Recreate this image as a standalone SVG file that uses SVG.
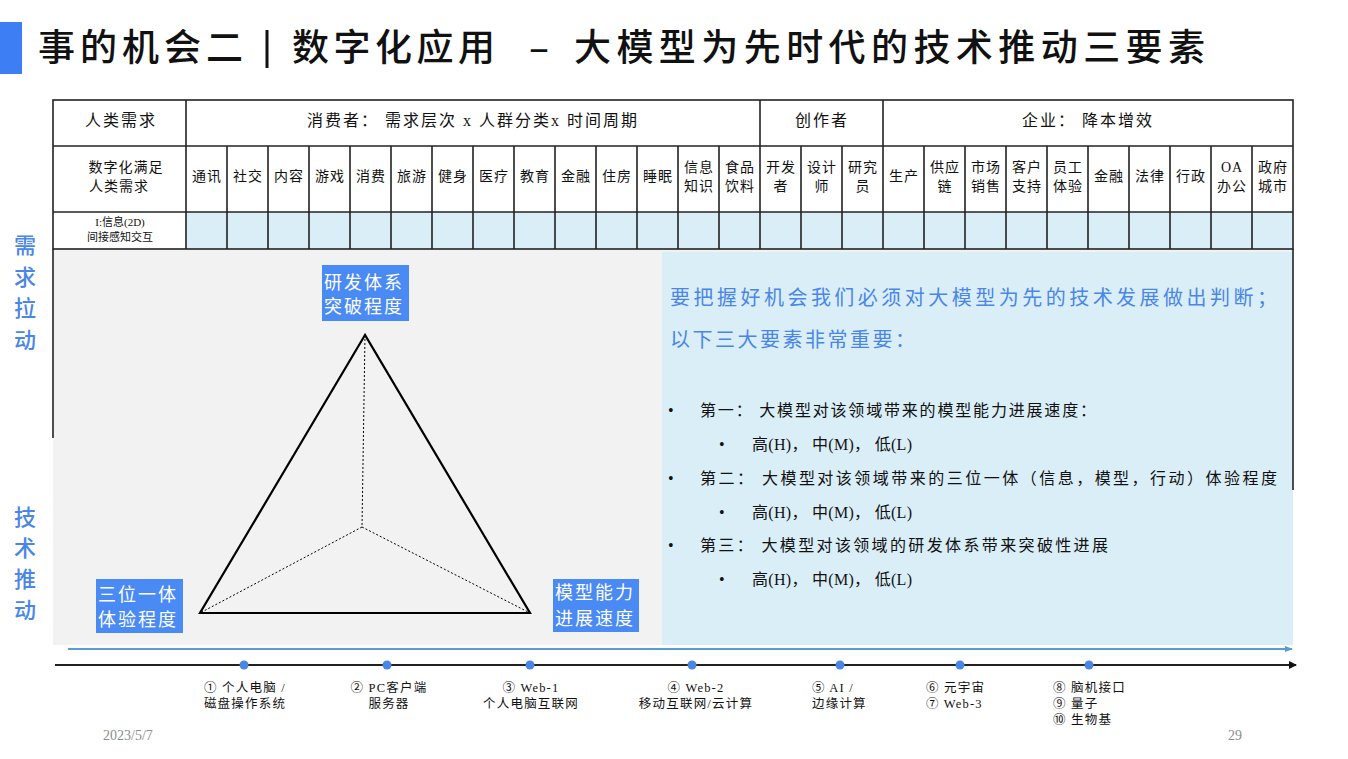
<svg xmlns="http://www.w3.org/2000/svg" width="1348" height="759" viewBox="0 0 1348 759">
<defs>
<style>
.cjk{font-family:"Liberation Serif","Noto Sans CJK SC",serif;}
.t1{font-size:16px;letter-spacing:2px;text-anchor:middle;fill:#111;}
.t2{font-size:14px;letter-spacing:1px;text-anchor:middle;fill:#111;}
.t3{font-size:11px;text-anchor:middle;fill:#111;}
.grid{stroke:#222;stroke-width:1.6;fill:none;}
.side{font-size:22px;fill:#4A86E8;text-anchor:middle;font-weight:500;}
.box{fill:#4A8AF4;}
.boxt{font-size:18px;fill:#fff;letter-spacing:2px;}
.blue{font-size:20px;fill:#4A86E8;}
.body{font-size:16px;fill:#111;}
.tl{font-size:12.5px;fill:#111;letter-spacing:1.2px;}
.dot{fill:#4A86E8;}
</style>
<marker id="arrBlk" markerWidth="8" markerHeight="8" refX="7" refY="4" orient="auto" markerUnits="userSpaceOnUse"><path d="M0,0 L8,4 L0,8 Z" fill="#111"/></marker>
<marker id="arrBlu" markerWidth="8" markerHeight="8" refX="7" refY="4" orient="auto" markerUnits="userSpaceOnUse"><path d="M0,1 L8,4 L0,7 Z" fill="#5B9BD5"/></marker>
</defs>
<rect width="1348" height="759" fill="#fff"/>

<g id="title">
<rect x="0" y="22" width="22" height="52" fill="#3D7EF5"/>
<text x="38" y="61" font-size="37" textLength="205" lengthAdjust="spacing" fill="#111" style="font-family:'Noto Sans CJK SC',sans-serif;font-weight:500">事的机会二</text>
<line x1="267" y1="30" x2="267" y2="68" stroke="#111" stroke-width="3"/>
<text x="292" y="61" font-size="37" textLength="203" lengthAdjust="spacing" fill="#111" style="font-family:'Noto Sans CJK SC',sans-serif;font-weight:500">数字化应用</text>
<text x="539" y="61" font-size="37" text-anchor="middle" fill="#111" style="font-family:'Noto Sans CJK SC',sans-serif;font-weight:500">–</text>
<text x="574" y="61" font-size="37" textLength="631" lengthAdjust="spacing" fill="#111" style="font-family:'Noto Sans CJK SC',sans-serif;font-weight:500">大模型为先时代的技术推动三要素</text>
</g>

<g id="panels">
<rect x="53" y="249" width="1240" height="396" fill="#F2F2F2"/>
<rect x="662" y="252" width="631" height="393" fill="#DAEEF8"/>
</g>

<g id="table">
<rect x="186" y="212" width="1107" height="37" fill="#DAEEF8"/>
<rect class="grid" x="53" y="100" width="1240" height="149"/>
<line class="grid" x1="53" y1="146" x2="1293" y2="146"/>
<line class="grid" x1="53" y1="212" x2="1293" y2="212"/>
<line class="grid" x1="186" y1="100" x2="186" y2="249"/>
<line class="grid" x1="760" y1="100" x2="760" y2="249"/>
<line class="grid" x1="883" y1="100" x2="883" y2="249"/>
<path class="grid" d="M227,146V249 M268,146V249 M309,146V249 M350,146V249 M391,146V249 M432,146V249 M473,146V249 M514,146V249 M555,146V249 M596,146V249 M637,146V249 M678,146V249 M719,146V249 M801,146V249 M842,146V249 M924,146V249 M965,146V249 M1006,146V249 M1047,146V249 M1088,146V249 M1129,146V249 M1170,146V249 M1211,146V249 M1252,146V249"/>
<line class="grid" x1="53" y1="249" x2="53" y2="438"/>
<line class="grid" x1="1293" y1="249" x2="1293" y2="490"/>

<text class="cjk t1" x="121" y="126">人类需求</text>
<text class="cjk t1" x="473" y="126">消费者：  需求层次 x 人群分类x 时间周期</text>
<text class="cjk t1" x="822" y="126">创作者</text>
<text class="cjk t1" x="1088" y="126">企业：  降本增效</text>

<text class="cjk t2" x="126" y="172">数字化满足</text>
<text class="cjk t2" x="119" y="191">人类需求</text>
<g class="cjk t2">
<text x="207" y="181">通讯</text>
<text x="248" y="181">社交</text>
<text x="289" y="181">内容</text>
<text x="330" y="181">游戏</text>
<text x="371" y="181">消费</text>
<text x="412" y="181">旅游</text>
<text x="453" y="181">健身</text>
<text x="494" y="181">医疗</text>
<text x="535" y="181">教育</text>
<text x="576" y="181">金融</text>
<text x="617" y="181">住房</text>
<text x="658" y="181">睡眠</text>
<text x="699" y="172">信息</text><text x="699" y="191">知识</text>
<text x="740" y="172">食品</text><text x="740" y="191">饮料</text>
<text x="781" y="172">开发</text><text x="781" y="191">者</text>
<text x="822" y="172">设计</text><text x="822" y="191">师</text>
<text x="863" y="172">研究</text><text x="863" y="191">员</text>
<text x="904" y="181">生产</text>
<text x="945" y="172">供应</text><text x="945" y="191">链</text>
<text x="986" y="172">市场</text><text x="986" y="191">销售</text>
<text x="1027" y="172">客户</text><text x="1027" y="191">支持</text>
<text x="1068" y="172">员工</text><text x="1068" y="191">体验</text>
<text x="1109" y="181">金融</text>
<text x="1150" y="181">法律</text>
<text x="1191" y="181">行政</text>
<text x="1232" y="172">OA</text><text x="1232" y="191">办公</text>
<text x="1273" y="172">政府</text><text x="1273" y="191">城市</text>
</g>
<text class="cjk t3" x="120" y="226">I:信息(2D)</text>
<text class="cjk t3" x="120" y="241">间接感知交互</text>
</g>

<g id="side-labels">
<text class="cjk side" x="25" y="253">需</text>
<text class="cjk side" x="25" y="285">求</text>
<text class="cjk side" x="25" y="316">拉</text>
<text class="cjk side" x="25" y="348">动</text>
<text class="cjk side" x="25" y="525">技</text>
<text class="cjk side" x="25" y="556">术</text>
<text class="cjk side" x="25" y="587">推</text>
<text class="cjk side" x="25" y="618">动</text>
</g>

<g id="triangle">
<path d="M365,335 L200,613 L530,613 Z" fill="none" stroke="#000" stroke-width="2.2" stroke-linejoin="miter"/>
<path d="M365,335 L362,527 M362,527 L200,613 M362,527 L530,613" fill="none" stroke="#000" stroke-width="1" stroke-dasharray="2,2"/>
</g>

<g id="node-rd">
<rect class="box" x="322" y="265" width="87" height="56"/>
<text class="cjk boxt" x="324" y="289">研发体系</text>
<text class="cjk boxt" x="324" y="313">突破程度</text>
</g>
<g id="node-exp">
<rect class="box" x="96" y="579" width="87" height="54"/>
<text class="cjk boxt" x="98" y="601">三位一体</text>
<text class="cjk boxt" x="98" y="626">体验程度</text>
</g>
<g id="node-model">
<rect class="box" x="553" y="579" width="86" height="53"/>
<text class="cjk boxt" x="555" y="599">模型能力</text>
<text class="cjk boxt" x="555" y="625">进展速度</text>
</g>

<g id="text-panel">
<text class="cjk blue" x="670" y="305" textLength="607" lengthAdjust="spacing">要把握好机会我们必须对大模型为先的技术发展做出判断；</text>
<text class="cjk blue" x="670" y="347" textLength="245" lengthAdjust="spacing">以下三大要素非常重要：</text>
<text class="cjk body" x="668" y="416">•</text>
<text class="cjk body" x="700" y="416" textLength="396" lengthAdjust="spacing">第一：  大模型对该领域带来的模型能力进展速度：</text>
<text class="cjk body" x="719" y="450">•</text>
<text class="cjk body" x="752" y="450" textLength="160" lengthAdjust="spacing">高(H)，  中(M)，  低(L)</text>
<text class="cjk body" x="668" y="484">•</text>
<text class="cjk body" x="700" y="484" textLength="577" lengthAdjust="spacing">第二：  大模型对该领域带来的三位一体（信息，模型，行动）体验程度</text>
<text class="cjk body" x="719" y="518">•</text>
<text class="cjk body" x="752" y="518" textLength="160" lengthAdjust="spacing">高(H)，  中(M)，  低(L)</text>
<text class="cjk body" x="668" y="551">•</text>
<text class="cjk body" x="700" y="551" textLength="408" lengthAdjust="spacing">第三：  大模型对该领域的研发体系带来突破性进展</text>
<text class="cjk body" x="719" y="585">•</text>
<text class="cjk body" x="752" y="585" textLength="160" lengthAdjust="spacing">高(H)，  中(M)，  低(L)</text>
</g>

<g id="connectors">
<line x1="68" y1="649" x2="1292" y2="649" stroke="#5B9BD5" stroke-width="2" marker-end="url(#arrBlu)"/>
<line x1="55" y1="665" x2="1296" y2="665" stroke="#222" stroke-width="2" marker-end="url(#arrBlk)"/>
</g>

<g id="timeline">
<circle class="dot" cx="244" cy="665" r="4.5"/>
<circle class="dot" cx="387" cy="665" r="4.5"/>
<circle class="dot" cx="530" cy="665" r="4.5"/>
<circle class="dot" cx="692" cy="665" r="4.5"/>
<circle class="dot" cx="840" cy="665" r="4.5"/>
<circle class="dot" cx="960" cy="665" r="4.5"/>
<circle class="dot" cx="1089" cy="665" r="4.5"/>
<g class="cjk tl" text-anchor="middle">
<text x="245" y="692">① 个人电脑 /</text>
<text x="245" y="708">磁盘操作系统</text>
<text x="389" y="692">② PC客户端</text>
<text x="389" y="708">服务器</text>
<text x="531" y="692">③ Web-1</text>
<text x="531" y="708">个人电脑互联网</text>
<text x="696" y="692">④ Web-2</text>
<text x="696" y="708">移动互联网/云计算</text>
</g>
<g class="cjk tl">
<text x="812" y="692">⑤ AI /</text>
<text x="812" y="708">边缘计算</text>
<text x="926" y="692">⑥ 元宇宙</text>
<text x="926" y="708">⑦ Web-3</text>
<text x="1053" y="692">⑧ 脑机接口</text>
<text x="1053" y="708">⑨ 量子</text>
<text x="1053" y="724">⑩ 生物基</text>
</g>
</g>

<g id="footer">
<text x="103" y="740" font-size="14" fill="#8C8C8C" style="font-family:'Liberation Serif',serif">2023/5/7</text>
<text x="1228" y="740" font-size="14" fill="#8C8C8C" style="font-family:'Liberation Serif',serif">29</text>
</g>
</svg>
